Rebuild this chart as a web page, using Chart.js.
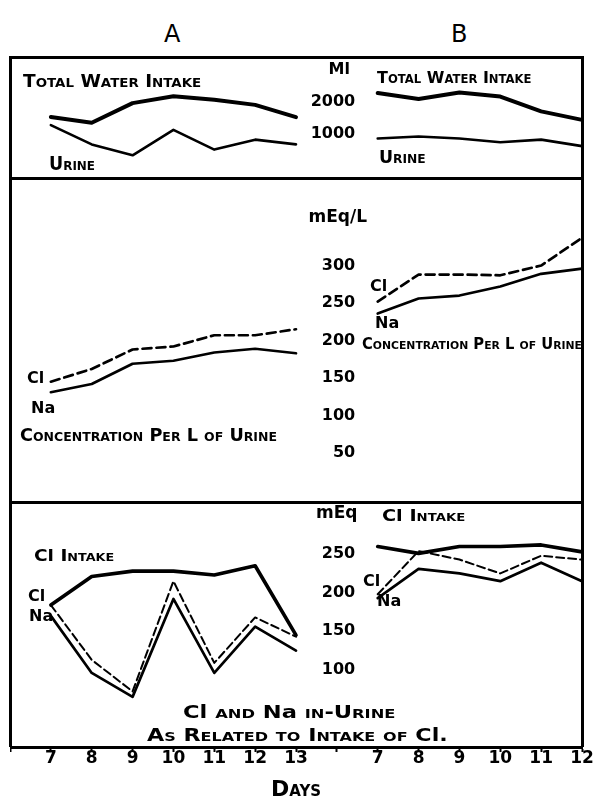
<!DOCTYPE html>
<html lang="en">
<head>
<meta charset="UTF-8">
<title>Cl and Na in Urine as Related to Intake of Cl</title>
<script src="https://cdn.jsdelivr.net/npm/chart.js@4"></script>
<style>
  html, body { margin: 0; padding: 0; background: #fff; overflow: hidden; }
  body { width: 595px; height: 799px; position: relative; font-family: "DejaVu Sans", sans-serif; color: #000; }
  canvas { position: absolute; left: 10px; }
  .frame { position: absolute; left: 9px; top: 56px; width: 575px; height: 691px; border: 3px solid #000; border-bottom: none; box-sizing: border-box; }
  .rule { position: absolute; left: 9px; width: 575px; height: 3px; background: #000; }
  .note { position: absolute; line-height: 1; white-space: nowrap; font-weight: bold; }
  .sc { font-variant: small-caps; }
</style>
</head>
<body>
  <div class="frame"></div>
  <div class="rule" style="top:177px"></div>
  <div class="rule" style="top:501px"></div>

  <canvas id="water" width="587" height="120" style="top:58px"></canvas>
  <canvas id="conc" width="587" height="325" style="top:178px"></canvas>
  <canvas id="intake" width="587" height="298" style="top:503px"></canvas>

  <script>
    // days of the two series
    const daysA = ['7', '8', '9', '10', '11', '12', '13'];
    const daysB = ['7', '8', '9', '10', '11', '12'];

    // total water intake and urine volume, ml
    const waterIntakeA = [1530, 1350, 1970, 2190, 2080, 1915, 1525];
    const urineVolA = [1275, 665, 320, 1125, 500, 815, 665];
    const waterIntakeB = [2290, 2100, 2310, 2180, 1710, 1440];
    const urineVolB = [850, 915, 850, 735, 815, 610];

    // concentration per L of urine, mEq/L
    const clConcA = [145, 162, 188, 192, 207, 207, 215];
    const naConcA = [131, 142, 169, 173, 184, 189, 183];
    const clConcB = [252, 288, 288, 287, 300, 337];
    const naConcB = [236, 256, 260, 272, 289, 296];

    // Cl intake and Cl / Na in urine, mEq
    const clIntakeA = [184, 221, 228, 228, 223, 235, 145];
    const clUrineA = [184, 113, 72, 215, 109, 168, 143];
    const naUrineA = [170, 96, 65, 192, 96, 156, 125];
    const clIntakeB = [260, 251, 260, 260, 262, 253];
    const clUrineB = [198, 254, 243, 225, 248, 243];
    const naUrineB = [193, 231, 225, 215, 239, 215];

    // tick labels on the middle axis
    const mlTicks = [1000, 2000];
    const concTicks = [50, 100, 150, 200, 250, 300];
    const meqTicks = [100, 150, 200, 250];

    // one shared day axis: blank, A days, blank, B days
    const dayLabels = [''].concat(daysA, [''], daysB);
    const padA = v => [null].concat(v, Array(daysB.length + 1).fill(null));
    const padB = v => Array(daysA.length + 2).fill(null).concat(v);

    Chart.defaults.font.family = '"DejaVu Sans", sans-serif';
    Chart.defaults.color = '#000';

    function line(data, width, dash) {
      return {
        data: data,
        borderColor: '#000',
        borderWidth: width,
        borderDash: dash || [],
        borderCapStyle: 'round',
        borderJoinStyle: 'round',
        pointRadius: 0,
        tension: 0,
        fill: false
      };
    }

    function panel(id, yMax, yTicks, datasets, showDays) {
      return new Chart(document.getElementById(id), {
        type: 'line',
        data: { labels: dayLabels, datasets: datasets },
        options: {
          responsive: false,
          animation: false,
          events: [],
          layout: { autoPadding: false, padding: { left: 0, right: 15, top: 0, bottom: 0 } },
          plugins: { legend: { display: false }, tooltip: { enabled: false } },
          scales: {
            x: {
              display: showDays,
              offset: false,
              grid: { display: true, drawOnChartArea: false, drawTicks: true, tickLength: 5, tickWidth: 2, color: '#000' },
              border: { display: true, width: 3, color: '#000' },
              ticks: { autoSkip: false, maxRotation: 0, padding: 0, font: { size: 17, weight: 'bold', lineHeight: 0.8 } },
              title: {
                display: true,
                text: 'Days',
                font: { size: 22, weight: 'small-caps bold', lineHeight: 1 },
                padding: { top: 13.4, bottom: 0 }
              }
            },
            y: {
              min: 0,
              max: yMax,
              position: { x: 8.45 },
              grid: { display: false },
              border: { display: false },
              afterBuildTicks: s => { s.ticks = yTicks.map(v => ({ value: v })); },
              ticks: { callback: v => String(v), font: { size: 16, weight: 'bold' } }
            }
          }
        }
      });
    }

    panel('water', 3000, mlTicks, [
      line(padA(waterIntakeA), 4),
      line(padA(urineVolA), 2.6),
      line(padB(waterIntakeB), 4),
      line(padB(urineVolB), 2.6)
    ], false);

    panel('conc', 400, concTicks, [
      line(padA(clConcA), 2.7, [9, 5]),
      line(padA(naConcA), 2.7),
      line(padB(clConcB), 2.7, [9, 5]),
      line(padB(naConcB), 2.7)
    ], false);

    panel('intake', 300, meqTicks, [
      line(padA(clIntakeA), 3.6),
      line(padA(clUrineA), 2, [8, 4]),
      line(padA(naUrineA), 2.7),
      line(padB(clIntakeB), 3.6),
      line(padB(clUrineB), 2, [8, 4]),
      line(padB(naUrineB), 2.7)
    ], true);

    // hand-lettered annotations: html, x, baseline, size, target width, centred, weight
    const notes = [
      ['A', 172, 42, 24, 0, true, 'normal'],
      ['B', 459, 42, 24, 0, true, 'normal'],
      ['<span class="sc">Total Water Intake</span>', 23, 87, 18, 178],
      ['<span class="sc">Urine</span>', 49, 170.5, 19, 46],
      ['Ml', 339, 75, 16, 0, true],
      ['<span class="sc">Total Water Intake</span>', 377, 83.5, 16.5, 155],
      ['<span class="sc">Urine</span>', 379, 163.5, 17, 47],
      ['mEq/L', 338, 222, 17, 0, true],
      ['Cl', 27, 383.3, 16],
      ['Na', 31, 413.3, 16],
      ['<span class="sc">Concentration Per L of Urine</span>', 20, 441.7, 17, 257],
      ['Cl', 370, 291.7, 16],
      ['Na', 375, 328.3, 16],
      ['<span class="sc">Concentration Per L of Urine</span>', 362, 350, 15, 220],
      ['mEq', 337, 518, 17, 0, true],
      ['Cl <span class="sc">Intake</span>', 382, 521.7, 16, 83],
      ['Cl <span class="sc">Intake</span>', 34, 561.7, 16, 80],
      ['Cl', 28, 601.7, 16],
      ['Na', 29, 621.7, 16],
      ['Cl', 363, 586.7, 16],
      ['Na', 377, 606.7, 16],
      ['Cl <span class="sc">and</span> Na <span class="sc">in-Urine</span>', 183, 718, 18, 213],
      ['<span class="sc">As Related to Intake of</span> Cl.', 147, 741.7, 18, 301]
    ];

    notes.forEach(([html, x, base, size, width, centred, weight]) => {
      const el = document.createElement('div');
      el.className = 'note';
      el.innerHTML = html;
      el.style.fontSize = size + 'px';
      if (weight) el.style.fontWeight = weight;
      el.style.top = (base - 0.846 * size) + 'px';
      document.body.appendChild(el);
      const w = el.offsetWidth;
      const k = width ? width / w : 1;
      el.style.left = (centred ? x - w / 2 : x) + 'px';
      el.style.transformOrigin = centred ? 'center' : 'left';
      el.style.transform = 'scaleX(' + k + ')';
    });
  </script>
</body>
</html>
